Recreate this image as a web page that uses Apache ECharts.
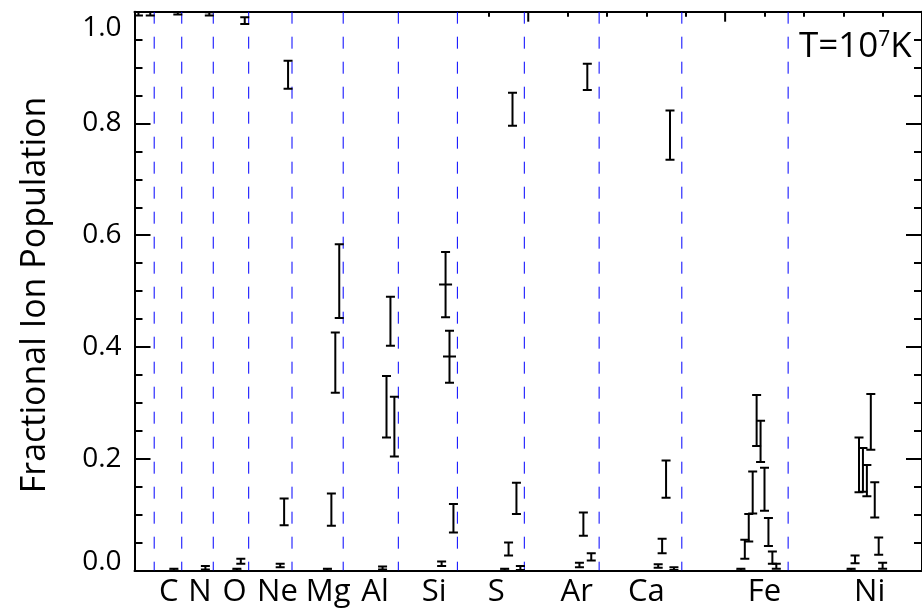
<!DOCTYPE html>
<html>
<head>
<meta charset="utf-8">
<title>Fractional Ion Population</title>
<script src="https://cdn.jsdelivr.net/npm/echarts@6/dist/echarts.min.js"></script>
<style>
  html, body { margin: 0; padding: 0; background: #fff; }
  #chart { width: 922px; height: 614px; }
</style>
</head>
<body>
<div id="chart"></div>
<script>
// Elements along the ion axis and how many ionisation stages each one has
const elementNames = ['H', 'He', 'C', 'N', 'O', 'Ne', 'Mg', 'Al', 'Si', 'S', 'Ar', 'Ca', 'Fe', 'Ni'];
const ionCounts    = [2, 3, 7, 8, 9, 11, 13, 14, 15, 17, 19, 21, 27, 29];

// Elements whose block is marked by a dashed separator and a name under the axis
const labelledElements = ['C', 'N', 'O', 'Ne', 'Mg', 'Al', 'Si', 'S', 'Ar', 'Ca', 'Fe', 'Ni'];
// Where each element name sits on the ion axis
const labelIonPos = [8.7, 16.6, 25.4, 36.3, 49.2, 61.1, 76.1, 91.9, 112.3, 130, 160, 186.7];

// Y-axis tick labels
const yTicks = [0.0, 0.2, 0.4, 0.6, 0.8, 1.0];
// Ticks along the top axis (ion index)
const topMinorTicks = [90, 110, 120, 130, 140, 160, 170, 180, 190];
const topMajorTicks = [100, 150];

// Error bars: element, ionisation stage (1 = neutral), lower and upper bound, optional centre value
const barElement = [
  'H', 'He',
  'C', 'C',
  'N', 'N',
  'O', 'O', 'O',
  'Ne', 'Ne', 'Ne',
  'Mg', 'Mg', 'Mg', 'Mg',
  'Al', 'Al', 'Al', 'Al',
  'Si', 'Si', 'Si', 'Si',
  'S', 'S', 'S', 'S', 'S',
  'Ar', 'Ar', 'Ar', 'Ar',
  'Ca', 'Ca', 'Ca', 'Ca', 'Ca',
  'Fe', 'Fe', 'Fe', 'Fe', 'Fe', 'Fe', 'Fe', 'Fe', 'Fe', 'Fe',
  'Ni', 'Ni', 'Ni', 'Ni', 'Ni', 'Ni', 'Ni', 'Ni', 'Ni'
];
const barStage = [
  2, 3,
  6, 7,
  7, 8,
  7, 8, 9,
  9, 10, 11,
  10, 11, 12, 13,
  11, 12, 13, 14,
  12, 13, 14, 15,
  13, 14, 15, 16, 17,
  15, 16, 17, 18,
  16, 17, 18, 19, 20,
  16, 17, 18, 19, 20, 21, 22, 23, 24, 25,
  17, 18, 19, 20, 21, 22, 23, 24, 25
];
const barLow = [
  0.993, 0.993,
  0.000, 0.995,
  0.002, 0.993,
  0.000, 0.012, 0.978,
  0.006, 0.081, 0.862,
  0.000, 0.080, 0.318, 0.452,
  0.002, 0.238, 0.402, 0.204,
  0.008, 0.453, 0.336, 0.068,
  0.000, 0.027, 0.796, 0.101, 0.001,
  0.006, 0.062, 0.860, 0.018,
  0.005, 0.031, 0.130, 0.735, 0.001,
  0.000, 0.021, 0.052, 0.102, 0.223, 0.194, 0.107, 0.044, 0.012, 0.003,
  0.000, 0.013, 0.140, 0.141, 0.133, 0.216, 0.095, 0.028, 0.003
];
const barHigh = [
  1.006, 1.006,
  0.003, 1.003,
  0.008, 0.999,
  0.003, 0.021, 0.990,
  0.012, 0.129, 0.912,
  0.003, 0.138, 0.426, 0.584,
  0.007, 0.348, 0.490, 0.311,
  0.016, 0.570, 0.429, 0.119,
  0.003, 0.050, 0.855, 0.157, 0.008,
  0.014, 0.104, 0.907, 0.031,
  0.011, 0.057, 0.197, 0.823, 0.006,
  0.003, 0.055, 0.101, 0.177, 0.314, 0.268, 0.184, 0.094, 0.034, 0.012,
  0.003, 0.027, 0.238, 0.219, 0.189, 0.316, 0.158, 0.059, 0.014
];
const barMid = [
  null, null,
  null, null,
  null, null,
  null, null, null,
  null, null, null,
  null, null, null, null,
  null, null, null, null,
  null, 0.512, 0.383, null,
  null, null, null, null, null,
  null, null, null, null,
  null, null, null, null, null,
  null, null, null, null, null, null, null, null, null, null,
  null, null, null, null, null, null, null, null, null
];

// First ion index of every element block
const elementStart = {};
let acc = 0;
elementNames.forEach((el, i) => { elementStart[el] = acc; acc += ionCounts[i]; });

const barData = barElement.map((el, i) => [
  elementStart[el] + barStage[i] - 1,
  barLow[i],
  barHigh[i],
  barMid[i] === null ? NaN : barMid[i]
]);

const separatorData = labelledElements.map(el => [elementStart[el]]);

const FONT = '"Open Sans", "Noto Sans", sans-serif';
const BLACK = '#000000';
const SEP_BLUE = '#0000ff';

// Vertical error bar with end caps and an optional centre mark
function renderErrorBar(params, api) {
  const x = api.value(0);
  const lo = api.coord([x, api.value(1)]);
  const hi = api.coord([x, api.value(2)]);
  const mid = api.value(3);
  const cap = 4.5;
  const style = { stroke: BLACK, lineWidth: 2 };
  const children = [
    { type: 'line', shape: { x1: lo[0], y1: lo[1], x2: hi[0], y2: hi[1] }, style },
    { type: 'line', shape: { x1: lo[0] - cap, y1: lo[1], x2: lo[0] + cap, y2: lo[1] }, style },
    { type: 'line', shape: { x1: hi[0] - cap, y1: hi[1], x2: hi[0] + cap, y2: hi[1] }, style }
  ];
  if (!isNaN(mid)) {
    const m = api.coord([x, mid]);
    children.push({ type: 'line', shape: { x1: m[0] - 6.5, y1: m[1], x2: m[0] + 6.5, y2: m[1] }, style });
  }
  return { type: 'group', children };
}

// Dashed blue line at the start of an element block, full plot height
function renderSeparator(params, api) {
  const x = api.value(0);
  const top = api.coord([x, 1]);
  const bottom = api.coord([x, 0]);
  return {
    type: 'line',
    shape: { x1: top[0], y1: top[1], x2: bottom[0], y2: bottom[1] },
    style: { stroke: SEP_BLUE, lineWidth: 1, lineDash: [12, 13] }
  };
}

// Longer inward ticks on the top axis
function renderTopMajorTick(params, api) {
  const p = api.coord([api.value(0), 1]);
  return {
    type: 'line',
    shape: { x1: p[0], y1: p[1], x2: p[0], y2: p[1] + 10 },
    style: { stroke: BLACK, lineWidth: 2 }
  };
}

const yLabelFormatter = v => {
  const s = v.toFixed(1);
  if (v >= 0.999) return '{top|' + s + '}';
  if (v <= 0.001) return '{bot|' + s + '}';
  return s;
};

const chart = echarts.init(document.getElementById('chart'), null, { renderer: 'canvas' });

const axisLineStyle = { color: BLACK, width: 2 };

chart.setOption({
  animation: false,
  backgroundColor: '#ffffff',
  grid: { left: 134.5, top: 11.7, width: 790, height: 558.8, containLabel: false },
  xAxis: [
    {
      type: 'value', min: 0, max: 200, position: 'bottom',
      axisLine: { show: true, onZero: false, lineStyle: axisLineStyle },
      axisTick: { show: false },
      splitLine: { show: false },
      axisLabel: {
        customValues: labelIonPos,
        formatter: v => {
          const i = labelIonPos.findIndex(p => Math.abs(p - v) < 1e-6);
          return i >= 0 ? labelledElements[i] : '';
        },
        color: BLACK, fontFamily: FONT, fontSize: 31, margin: 6
      }
    },
    {
      type: 'value', min: 0, max: 200, position: 'top',
      axisLine: { show: true, onZero: false, lineStyle: axisLineStyle },
      axisTick: { show: true, inside: true, length: 5, customValues: topMinorTicks, lineStyle: { color: BLACK, width: 2 } },
      axisLabel: { show: false },
      splitLine: { show: false }
    }
  ],
  yAxis: [
    {
      type: 'value', min: 0, max: 1, interval: 0.2, position: 'left',
      axisLine: { show: true, onZero: false, lineStyle: axisLineStyle },
      axisTick: { show: true, inside: true, length: 16, lineStyle: { color: BLACK, width: 2 } },
      minorTick: { show: true, splitNumber: 4, length: 8, lineStyle: { color: BLACK, width: 2 } },
      splitLine: { show: false },
      minorSplitLine: { show: false },
      axisLabel: {
        customValues: yTicks,
        formatter: yLabelFormatter,
        color: BLACK, fontFamily: FONT, fontSize: 28, margin: 13,
        rich: {
          top: { fontFamily: FONT, fontSize: 28, color: BLACK, padding: [32, 0, 0, 0] },
          bot: { fontFamily: FONT, fontSize: 28, color: BLACK, padding: [0, 0, 16, 0] }
        }
      }
    },
    {
      type: 'value', min: 0, max: 1, interval: 0.2, position: 'right',
      axisLine: { show: true, onZero: false, lineStyle: axisLineStyle },
      axisTick: { show: true, inside: true, length: 16, lineStyle: { color: BLACK, width: 2 } },
      minorTick: { show: true, splitNumber: 4, length: 8, lineStyle: { color: BLACK, width: 2 } },
      splitLine: { show: false },
      axisLabel: { show: false }
    }
  ],
  graphic: [
    {
      type: 'text', x: 35, y: 295, rotation: Math.PI / 2,
      style: {
        text: 'Fractional Ion Population', fill: BLACK,
        font: '34px ' + FONT, textAlign: 'center', textVerticalAlign: 'middle'
      }
    },
    {
      type: 'text', x: 799, y: 30,
      style: {
        text: '{a|T=10}{s|7}{a|K}',
        rich: {
          a: { fontFamily: FONT, fontSize: 35, fill: BLACK, color: BLACK },
          s: { fontFamily: FONT, fontSize: 21, fill: BLACK, color: BLACK, verticalAlign: 'top' }
        }
      }
    }
  ],
  series: [
    {
      type: 'custom', name: 'element separators', xAxisIndex: 0, yAxisIndex: 0,
      silent: true, clip: true,
      renderItem: renderSeparator,
      encode: { x: 0 },
      data: separatorData
    },
    {
      type: 'custom', name: 'top axis ticks', xAxisIndex: 0, yAxisIndex: 0,
      silent: true, clip: false,
      renderItem: renderTopMajorTick,
      encode: { x: 0 },
      data: topMajorTicks.map(v => [v])
    },
    {
      type: 'custom', name: 'ion fractions', xAxisIndex: 0, yAxisIndex: 0,
      clip: true,
      renderItem: renderErrorBar,
      encode: { x: 0, y: [1, 2] },
      data: barData
    }
  ]
});
</script>
</body>
</html>
